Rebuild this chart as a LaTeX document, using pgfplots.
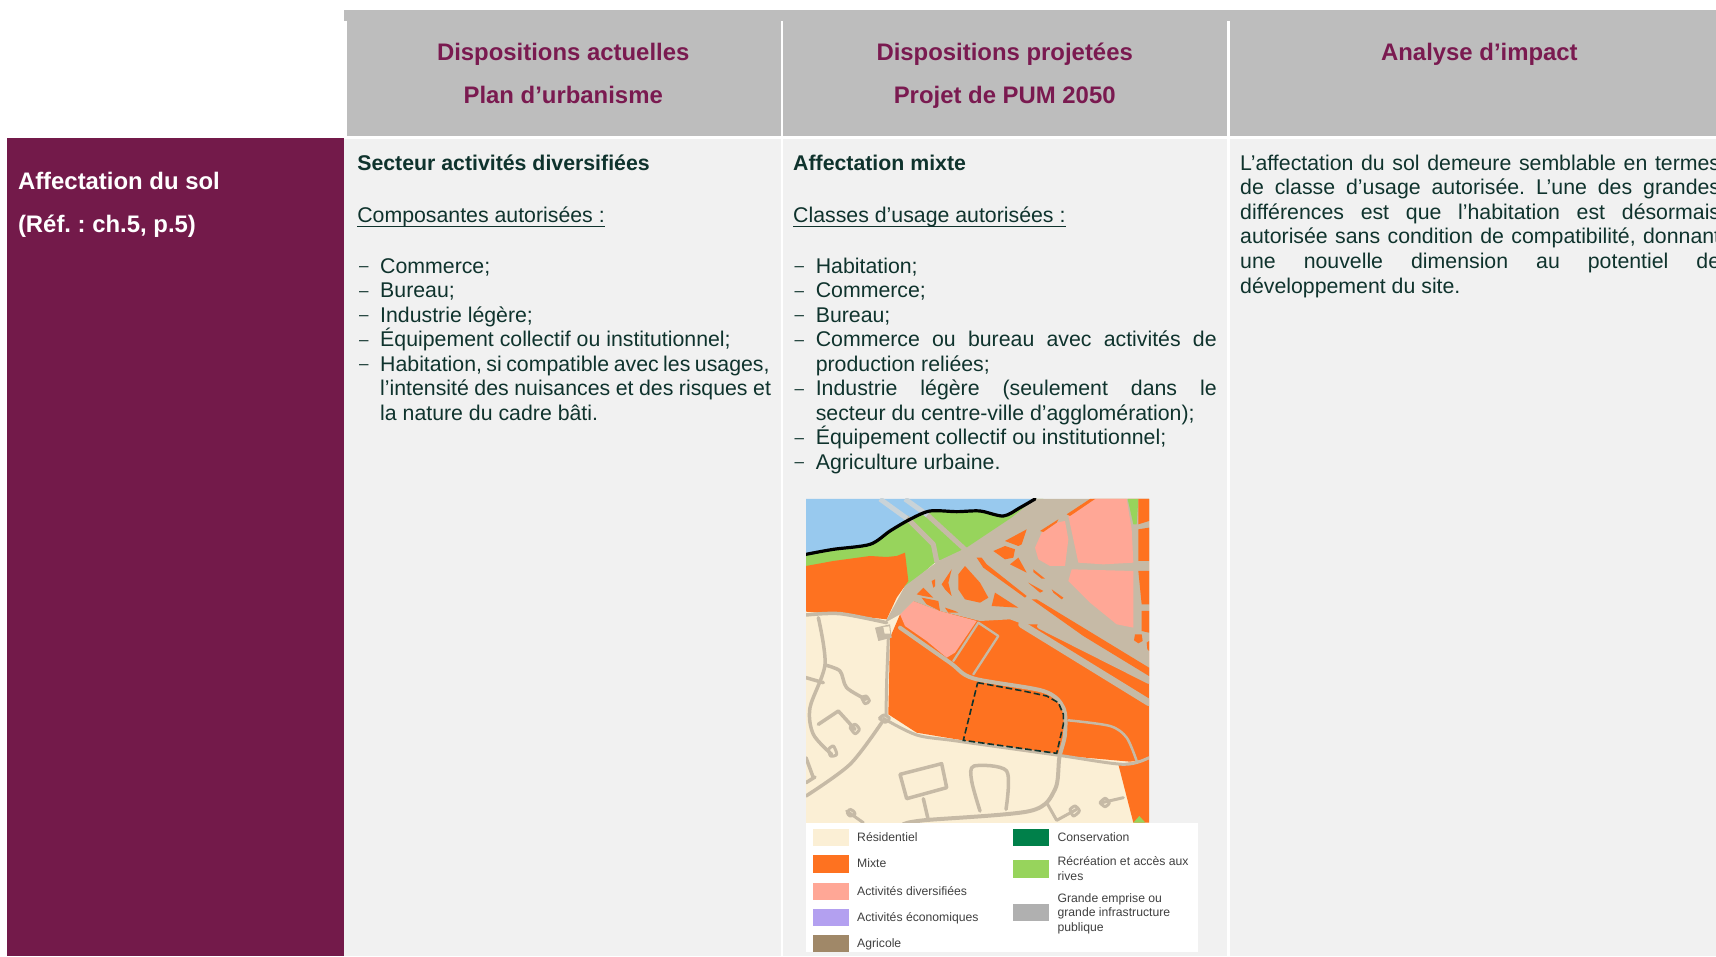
\documentclass[border=0pt]{standalone}
\usepackage{pgfplots}
\pgfplotsset{compat=1.18}
\usepackage{fontspec}
\setmainfont{Liberation Sans}
\frenchspacing
\definecolor{purp}{HTML}{731A4A}
\definecolor{headt}{HTML}{7A1A50}
\definecolor{headg}{HTML}{BDBDBD}
\definecolor{body}{HTML}{F1F1F1}
\definecolor{txt}{HTML}{0F332D}
\definecolor{cream}{HTML}{FBEFD5}
\definecolor{orng}{HTML}{FE7220}
\definecolor{pink}{HTML}{FFA796}
\definecolor{grn}{HTML}{97D45C}
\definecolor{water}{HTML}{98C9EE}
\definecolor{road}{HTML}{C6BAA6}
\definecolor{pale}{HTML}{C9D3D8}
\definecolor{cons}{HTML}{00804A}
\definecolor{lgray}{HTML}{B0B0B0}
\definecolor{lpurp}{HTML}{B3A0F0}
\definecolor{agri}{HTML}{A08868}
\newcommand{\poly}[2]{\addplot[fill=#1,draw=none] coordinates {#2} -- cycle;}
\newcommand{\rect}[5]{\addplot[fill=#1,draw=none] coordinates {(#2,#3)(#4,#3)(#4,#5)(#2,#5)} -- cycle;}
\newcommand{\rd}[2]{\addplot[draw=road,line width=#1pt,line cap=round,line join=round] coordinates {#2};}
\newcommand{\rs}[2]{\addplot[draw=road,line width=#1pt,line cap=round,line join=round,smooth] coordinates {#2};}
\newcommand{\fb}{\fontsize{21.3}{24}\selectfont}
\newcommand{\fh}{\fontsize{23.9}{26}\selectfont\bfseries}
\newcommand{\tl}[3]{\node[anchor=base west,inner sep=0pt,text=txt,font=\fb] at (axis cs:#1,#2){#3};}
\newcommand{\td}[2]{\node[anchor=base west,inner sep=0pt,text=txt,font=\fontsize{17}{18}\selectfont] at (axis cs:#1,#2){\raisebox{1.4pt}{–}};}
\newcommand{\tj}[4]{\node[anchor=base west,inner sep=0pt,text=txt,font=\fb] at (axis cs:#1,#2){\makebox[#3pt][s]{#4}};}
\newcommand{\tb}[3]{\node[anchor=base west,inner sep=0pt,text=txt,font=\fb\bfseries] at (axis cs:#1,#2){#3};}
\newcommand{\tc}[3]{\node[anchor=base,inner sep=0pt,text=headt,font=\fh] at (axis cs:#1,#2){#3};}
\newcommand{\tw}[3]{\node[anchor=base west,inner sep=0pt,text=white,font=\fh] at (axis cs:#1,#2){#3};}
\newcommand{\tg}[3]{\node[anchor=mid west,inner sep=0pt,text=black!75,font=\fontsize{12.2}{14}\selectfont] at (axis cs:#1,#2){#3};}
\newsavebox{\ulbox}
\newcommand{\ul}[1]{\sbox{\ulbox}{#1}\rlap{\rule[-4.4pt]{\wd\ulbox}{1.2pt}}\usebox{\ulbox}}
\begin{document}
\begin{tikzpicture}
\path[use as bounding box] (0pt,0pt) rectangle (1716pt,956pt);
\begin{axis}[at={(0pt,0pt)},anchor=south west,scale only axis,width=1716pt,height=956pt,
  xmin=0,xmax=1716,ymin=0,ymax=956,y dir=reverse,hide axis]
\rect{purp}{7}{138}{344}{956}
\rect{headg}{344}{10}{1716}{21}
\rect{headg}{347}{21}{1716}{136}
\rect{body}{344}{139}{1716}{956}
\rect{white}{780.6}{21}{782.8}{956}
\rect{white}{1227}{21}{1229.6}{956}
\tc{563.2}{60}{Dispositions actuelles}
\tc{563.2}{103.6}{Plan d’urbanisme}
\tc{1004.7}{60}{Dispositions projetées}
\tc{1004.7}{103.6}{Projet de PUM 2050}
\tc{1479.4}{60}{Analyse d’impact}
\tw{17.8}{189.6}{Affectation du sol}
\tw{17.8}{232.6}{(Réf. : ch.5, p.5)}
% column 1
\tb{357.1}{170}{Secteur activités diversifiées}
\tl{357.1}{222.4}{\ul{Composantes autorisées :}}
\td{359}{273.3}\tl{380}{273.3}{Commerce;}
\td{359}{297.6}\tl{380}{297.6}{Bureau;}
\td{359}{322.2}\tl{380}{322.2}{Industrie légère;}
\td{359}{346.5}\tl{380}{346.5}{Équipement collectif ou institutionnel;}
\td{359}{371.2}\tj{380}{371.2}{389.4}{Habitation, si compatible avec les usages,}
\tj{380}{395.4}{390.8}{l’intensité des nuisances et des risques et}
\tl{380}{420.4}{la nature du cadre bâti.}
% column 2
\tb{793}{170}{Affectation mixte}
\tl{793}{222.4}{\ul{Classes d’usage autorisées :}}
\td{794.5}{273.3}\tl{815.6}{273.3}{Habitation;}
\td{794.5}{297.6}\tl{815.6}{297.6}{Commerce;}
\td{794.5}{322.2}\tl{815.6}{322.2}{Bureau;}
\td{794.5}{346.5}\tj{815.6}{346.5}{400.9}{Commerce ou bureau avec activités de}
\tl{815.6}{371.2}{production reliées;}
\td{794.5}{395.4}\tj{815.6}{395.4}{400.9}{Industrie légère (seulement dans le}
\tl{815.6}{420.2}{secteur du centre-ville d’agglomération);}
\td{794.5}{444.6}\tl{815.6}{444.6}{Équipement collectif ou institutionnel;}
\td{794.5}{469.2}\tl{815.6}{469.2}{Agriculture urbaine.}
% column 3
\tj{1240}{170}{480}{L’affectation du sol demeure semblable en termes}
\tj{1240}{194.6}{480}{de classe d’usage autorisée. L’une des grandes}
\tj{1240}{219}{480}{différences est que l’habitation est désormais}
\tj{1240}{243.7}{480}{autorisée sans condition de compatibilité, donnant}
\tj{1240}{268.4}{480}{une nouvelle dimension au potentiel de}
\tl{1240}{293.2}{développement du site.}
% map legend
\rect{white}{806}{823}{1198}{951.7}
\rect{cream}{813.3}{829}{849.3}{846}
\rect{orng}{813.3}{855}{849.3}{873.3}
\rect{pink}{813.3}{882.7}{849.3}{900}
\rect{lpurp}{813.3}{909}{849.3}{926.3}
\rect{agri}{813.3}{935.3}{849.3}{951.7}
\rect{cons}{1013.3}{829}{1049.3}{846}
\rect{grn}{1013.3}{860}{1049.3}{878}
\rect{lgray}{1013.3}{904}{1049.3}{921.3}
\tg{857}{838.5}{Résidentiel}
\tg{857}{865.3}{Mixte}
\tg{857}{892.5}{Activités diversifiées}
\tg{857}{918.5}{Activités économiques}
\tg{857}{945.3}{Agricole}
\tg{1057.4}{838.5}{Conservation}
\tg{1057.4}{862.8}{Récréation et accès aux}
\tg{1057.4}{877.8}{rives}
\tg{1057.4}{899.8}{Grande emprise ou}
\tg{1057.4}{914.1}{grande infrastructure}
\tg{1057.4}{928.5}{publique}
\end{axis}
% the map, in its own axis
\begin{axis}[at={(806pt,133.33pt)},anchor=south west,scale only axis,width=343pt,height=323.67pt,
  xmin=48,xmax=1077,ymin=54,ymax=1025,y dir=reverse,hide axis]
\rect{cream}{48}{54}{1077}{1025}
\poly{water}{(48,54)(735,54)(690,80)(640,105)(570,90)(500,92)(420,90)(360,115)(300,150)(240,190)(130,205)(48,218)}
\poly{grn}{(48,218)(130,205)(240,190)(300,150)(360,115)(420,90)(500,92)(570,90)(640,105)(690,80)(735,54)(760,54)(700,200)(520,225)(440,240)(360,310)(340,320)(48,300)}
\poly{orng}{(48,255)(130,240)(240,225)(290,228)(320,225)(345,215)(355,300)(320,350)(290,415)(150,400)(48,392)}
\poly{orng}{(300,470)(330,400)(400,330)(600,200)(830,100)(915,54)(1077,54)(1077,835)(1020,842)(830,825)(500,775)(380,755)(295,700)}
\poly{orng}{(985,850)(1077,835)(1077,1025)(1030,1025)}
\poly{grn}{(1030,1025)(1048,1005)(1066,1025)}
% pink lower-left block
\poly{pink}{(330,400)(370,360)(450,390)(560,420)(495,515)(470,530)(410,480)(345,435)}
% interchange ground
\poly{road}{(285,425)(345,315)(445,240)(530,200)(665,110)(735,54)(1077,54)(1077,595)(750,430)(700,430)(660,415)(570,420)(450,390)(370,360)(330,400)}
% pink blocks on the ground
\poly{pink}{(735,200)(755,155)(800,125)(825,120)(835,175)(825,255)(780,255)(745,235)}
\poly{pink}{(835,105)(910,54)(1010,54)(1025,145)(1030,245)(940,250)(865,245)(850,175)}
\poly{pink}{(845,265)(1030,270)(1030,440)(980,430)(900,365)(835,300)}
% strips and right-hand cells
\poly{orng}{(830,100)(900,54)(915,54)(840,105)}
\poly{orng}{(750,150)(805,115)(800,125)(760,153)}
\poly{grn}{(1013,54)(1045,54)(1040,130)(1030,130)}
\poly{orng}{(1045,54)(1077,54)(1077,120)(1045,130)}
\poly{orng}{(1045,145)(1077,140)(1077,240)(1045,240)}
\poly{orng}{(1045,270)(1077,270)(1077,370)(1055,370)}
\poly{orng}{(1055,390)(1077,390)(1077,455)(1055,450)}
\poly{orng}{(1035,460)(1055,460)(1058,480)(1045,487)(1032,478)}
\poly{orng}{(1070,485)(1077,480)(1077,510)(1072,505)}
% orange islands
\poly{orng}{(645,180)(710,145)(695,190)(685,195)}
\poly{orng}{(610,210)(645,195)(675,205)(670,230)(645,235)}
\poly{orng}{(660,250)(685,230)(710,275)}
\poly{orng}{(730,265)(765,293)(755,293)(730,273)}
\poly{orng}{(715,305)(760,330)(750,335)(720,310)}
\poly{orng}{(785,325)(820,350)(815,355)(790,335)}
\poly{orng}{(560,230)(575,230)(590,250)(710,345)(705,350)(580,260)}
\poly{orng}{(725,355)(740,355)(1077,560)(1077,585)(880,465)}
\poly{orng}{(505,280)(525,255)(570,305)(595,350)(570,365)(525,355)(505,325)}
\poly{orng}{(615,335)(685,380)(605,375)}
\poly{orng}{(380,340)(400,320)(430,350)(400,345)}
\poly{orng}{(395,350)(445,360)(450,390)(410,370)}
\poly{orng}{(465,380)(495,390)(505,395)(475,395)}
\poly{orng}{(455,310)(485,265)(475,305)(485,345)(465,325)}
\poly{orng}{(425,300)(435,295)(435,315)(430,320)}
% road network
\rd{6}{(750,435)(1077,600)}
\rd{7}{(695,430)(1077,665)}
\rd{5}{(350,110)(430,190)(440,240)}
\rd{5}{(410,100)(530,210)}
\addplot[draw=pale,line width=5pt] coordinates {(270,54)(350,112)};
\addplot[draw=pale,line width=5pt] coordinates {(345,54)(412,102)};
\rs{3.5}{(48,402)(150,398)(290,425)}
\rs{3}{(295,470)(290,600)(288,705)}
\rs{3}{(280,712)(380,762)(500,780)(800,822)(1000,850)(1077,830)}
\rs{4}{(330,440)(480,545)(550,592)(760,630)(820,680)(825,760)(808,830)(795,925)(720,990)(400,1018)(340,1030)}
\rd{2.3}{(550,580)(625,465)(565,425)(490,540)}
\rs{2.5}{(835,718)(960,735)(1010,770)(1040,840)}
\rs{3.5}{(85,410)(105,550)(60,680)(70,760)(125,820)}
\rs{3.5}{(105,552)(150,570)(170,620)(228,655)}
\rd{3.5}{(48,590)(100,605)}
\rd{3.5}{(85,730)(145,690)(195,745)}
\rs{3.5}{(48,945)(180,850)(275,725)}
\rd{3.5}{(48,830)(70,890)}
\rd{3.5}{(48,905)(75,888)}
\rd{3.5}{(330,880)(455,848)(470,920)(350,953)(330,880)}
\rd{3.5}{(400,953)(415,1018)}
\rs{3.5}{(570,990)(545,900)(552,855)(650,870)(648,985)}
\rd{3}{(770,965)(800,1018)(860,985)}
\rd{3}{(935,965)(1000,950)}
\rd{3}{(170,990)(220,1025)}
\rs{3}{(215,650)(228,645)(238,660)(225,668)(215,650)}
\rs{3}{(180,740)(195,730)(208,745)(195,758)(180,740)}
\rs{3}{(115,805)(130,795)(140,820)(122,825)(115,805)}
\rs{3}{(930,965)(945,952)(958,965)(945,977)(930,965)}
\rs{3}{(180,985)(190,990)(195,1000)(180,1005)(172,995)(180,985)}
\rs{3}{(840,985)(855,975)(868,990)(850,1005)(840,985)}
\poly{road}{(255,440)(300,430)(305,470)(265,480)}
\poly{cream}{(280,438)(298,436)(300,458)(284,458)}
\rs{3}{(268,712)(282,702)(298,712)(285,724)(268,712)}
\addplot[draw=black,line width=3.2pt,smooth,line cap=round] coordinates {(48,220)(130,205)(240,190)(300,150)(360,115)(420,90)(500,92)(570,90)(640,105)(690,80)(735,54)};
\addplot[draw=txt,line width=1.6pt,dash pattern=on 6.5pt off 3pt] coordinates {(563,605)(700,630)(770,645)(805,665)(820,700)(820,730)(800,817)(520,778)(563,605)};
\end{axis}
\end{tikzpicture}
\end{document}
